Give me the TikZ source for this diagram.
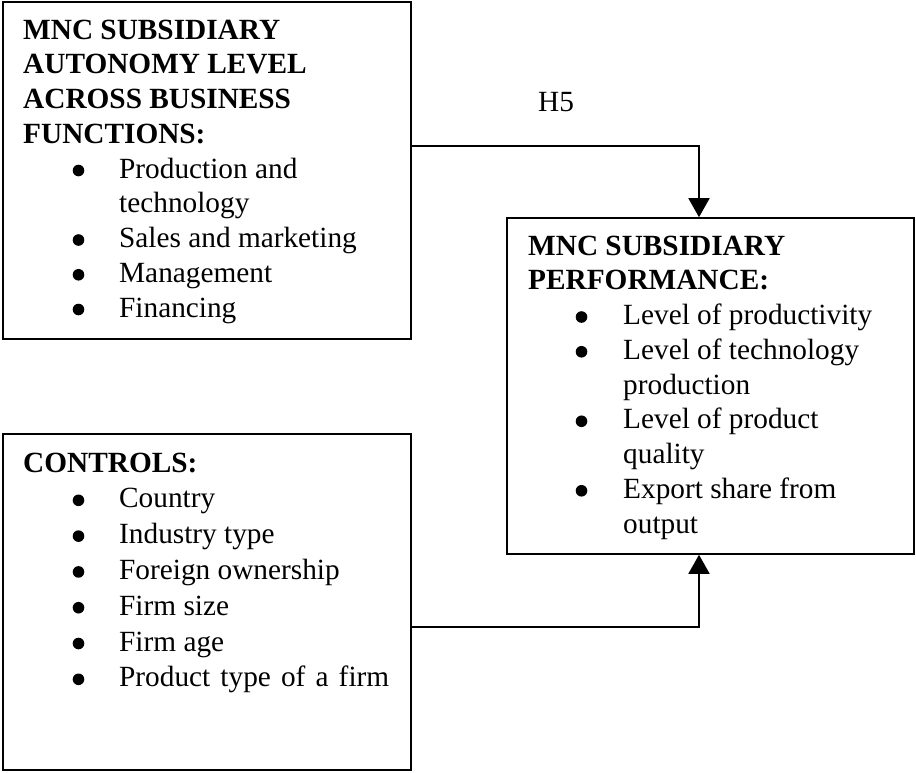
\documentclass[tikz,border=0pt]{standalone}
\usepackage{fontspec}
\setmainfont{Liberation Serif}
\usetikzlibrary{arrows.meta}

% hanging indents for list items inside the boxes
\newcommand\cont{\hspace*{96pt}}
\newcommand\contB{\hspace*{95pt}}

\begin{document}
\begin{tikzpicture}[x=1pt,y=1pt,
  box/.style={draw=black, line width=1.6pt, rectangle, inner sep=0pt},
  txt/.style={anchor=base west, inner sep=0pt},
  dotb/.style={fill=black, draw=none},
  conn/.style={draw=black, line width=1.8pt, -{Triangle[width=21pt,length=19pt]}}]
\useasboundingbox (0,0) rectangle (916,-772);

% boxes
\node[box, minimum width=408pt, minimum height=337pt] (A) at (207,-170.5) {};
\node[box, minimum width=407pt, minimum height=336pt] (B) at (710.5,-386) {};
\node[box, minimum width=408pt, minimum height=336pt] (C) at (207,-602) {};

% box texts
\node[txt] (tA) at (23,-39) {\parbox[t]{385pt}{\fontsize{29.3pt}{34.75pt}\selectfont\raggedright\parindent=0pt
\textbf{MNC SUBSIDIARY}\\
\textbf{AUTONOMY LEVEL}\\
\textbf{ACROSS BUSINESS}\\
\textbf{FUNCTIONS:}\\
\cont Production and\\
\cont technology\\
\cont Sales and marketing\\
\cont Management\\
\cont Financing}};

\node[txt] (tB) at (528,-255) {\parbox[t]{385pt}{\fontsize{29.3pt}{34.75pt}\selectfont\raggedright\parindent=0pt
\textbf{MNC SUBSIDIARY}\\
\textbf{PERFORMANCE:}\\
\contB Level of productivity\\
\contB Level of technology\\
\contB production\\
\contB Level of product\\
\contB quality\\
\contB Export share from\\
\contB output}};

\node[txt] (tC) at (23,-472) {\parbox[t]{385pt}{\fontsize{29.3pt}{35.8pt}\selectfont\raggedright\parindent=0pt
\textbf{CONTROLS:}\\
\cont Country\\
\cont Industry type\\
\cont Foreign ownership\\
\cont Firm size\\
\cont Firm age\\
\cont \makebox[270pt][s]{Product type of a firm}}};

% list bullets (centred a little above each item's baseline)
\foreach \k in {4,6,7,8} \fill[dotb] (78.5,{-39-\k*34.75+7.5}) circle (5.8pt);
\foreach \k in {2,3,5,7} \fill[dotb] (581.5,{-255-\k*34.75+7.5}) circle (5.8pt);
\foreach \k in {1,...,6} \fill[dotb] (78.5,{-472-\k*35.8+7.5}) circle (5.8pt);

% hypothesis label
\node[txt, font=\fontsize{29.3pt}{34.75pt}\selectfont] (h5) at (538,-111) {H5};

% connectors
\draw[conn] ([yshift=24.5pt]A.east) -| ([xshift=-11.5pt]B.north);
\draw[conn] ([yshift=-25pt]C.east) -| ([xshift=-11.5pt]B.south);
\end{tikzpicture}
\end{document}
